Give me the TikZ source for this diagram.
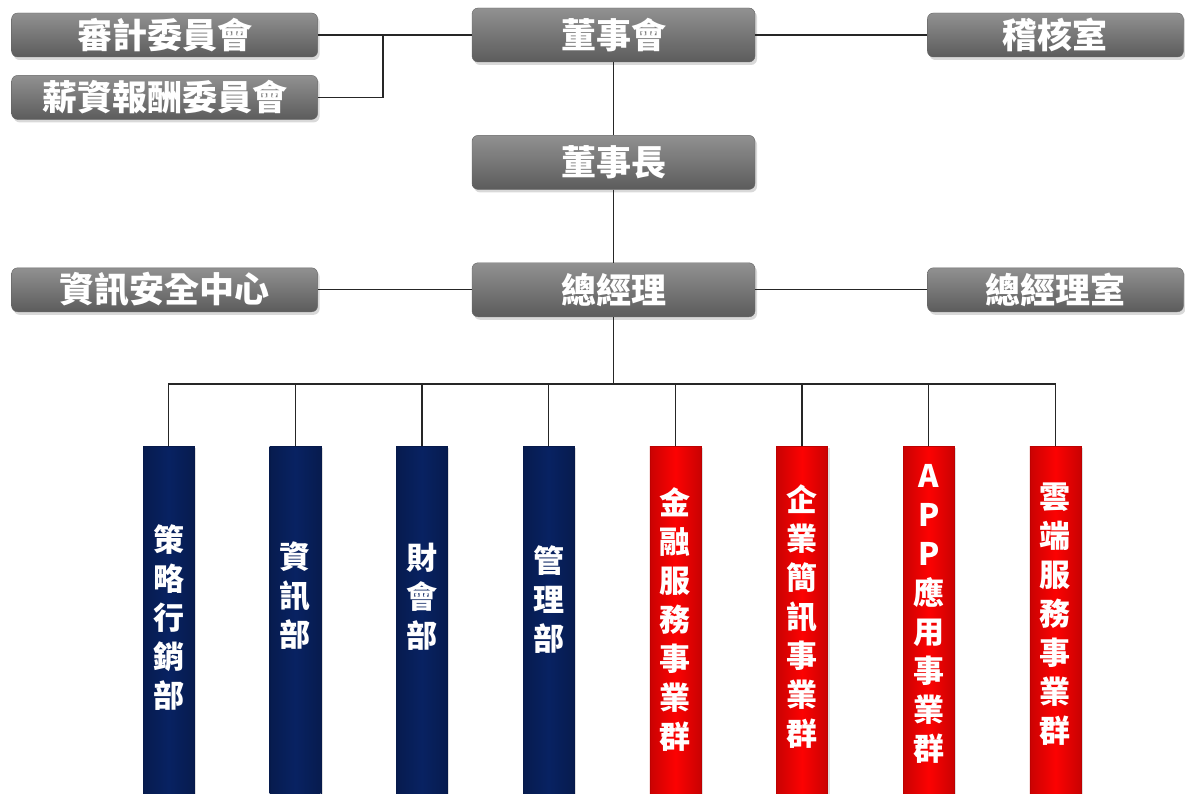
\documentclass[tikz,border=0pt]{standalone}
\usepackage{fontspec}
\setmainfont{Noto Sans CJK TC}
\usetikzlibrary{positioning,shadows}
\definecolor{panelgray}{RGB}{108,108,108}
\definecolor{deptblue}{RGB}{8,34,98}
\definecolor{groupred}{RGB}{252,2,2}

\begin{document}
\begin{tikzpicture}[x=1pt,y=-1pt,
    panel/.style={rectangle, rounded corners=6pt, draw=black!60, top color=panelgray!75, bottom color=panelgray!85!black, text=white, font=\fontsize{35}{38}\selectfont\bfseries, inner sep=0pt, drop shadow={opacity=0.3,shadow xshift=2pt,shadow yshift=-3pt}},
    sidebox/.style={panel, minimum width=306pt, minimum height=44pt},
    headbox/.style={panel, minimum width=283pt, minimum height=54pt},
    officebox/.style={panel, minimum width=256pt, minimum height=44pt},
    deptbar/.style={rectangle, draw=#1!75!black, left color=#1!80!black, right color=#1!80!black, middle color=#1, minimum width=51pt, minimum height=360pt, drop shadow={opacity=0.25,shadow xshift=2pt,shadow yshift=-2pt}},
    vtext/.style={text=white, font=\fontsize{31}{39}\selectfont\bfseries, align=center, inner sep=0pt},
    link/.style={draw=black!85, line width=1.2pt}
]
\useasboundingbox (0,0) rectangle (1185,794);

% top of the chart
\node[headbox] (board) at (613.5,35) {董事會};
\node[headbox, below=73pt of board] (chair) {董事長};
\node[headbox, below=73pt of chair] (gm) {總經理};

\node[sidebox, left=154pt of board] (audit) {審計委員會};
\node[sidebox, below=18pt of audit] (salary) {薪資報酬委員會};
\node[officebox, right=172pt of board] (inspect) {稽核室};
\node[sidebox, left=154pt of gm] (infosec) {資訊安全中心};
\node[officebox, right=172pt of gm] (gmoffice) {總經理室};

\coordinate (join) at (383,35);
\coordinate (bus) at (613.5,384);

\draw[link] (audit) -- (board);
\draw[link] (salary) -| (join);
\draw[link] (board) -- (inspect);
\draw[link] (board) -- (chair);
\draw[link] (chair) -- (gm);
\draw[link] (infosec) -- (gm);
\draw[link] (gm) -- (gmoffice);
\draw[link] (gm) -- (bus);

% departments and business groups
\node[deptbar=deptblue, anchor=north] (b1) at (168.5,446) {};
\node[deptbar=deptblue, right=75.3pt of b1] (b2) {};
\node[deptbar=deptblue, right=75.3pt of b2] (b3) {};
\node[deptbar=deptblue, right=75.3pt of b3] (b4) {};
\node[deptbar=groupred, right=75.3pt of b4] (b5) {};
\node[deptbar=groupred, right=75.3pt of b5] (b6) {};
\node[deptbar=groupred, right=75.3pt of b6] (b7) {};
\node[deptbar=groupred, right=75.3pt of b7] (b8) {};

\node[vtext, below=78pt of b1.north] (t1) {策\\略\\行\\銷\\部};
\node[vtext, below=96pt of b2.north] (t2) {資\\訊\\部};
\node[vtext, below=97pt of b3.north] (t3) {財\\會\\部};
\node[vtext, below=99pt of b4.north] (t4) {管\\理\\部};
\node[vtext, below=41pt of b5.north] (t5) {金\\融\\服\\務\\事\\業\\群};
\node[vtext, below=39pt of b6.north] (t6) {企\\業\\簡\\訊\\事\\業\\群};
\node[vtext, below=18pt of b7.north] (t7) {A\\P\\P\\應\\用\\事\\業\\群};
\node[vtext, below=37pt of b8.north] (t8) {雲\\端\\服\\務\\事\\業\\群};

\draw[link] (b1.north) |- (bus);
\draw[link] (b2.north) |- (bus);
\draw[link] (b3.north) |- (bus);
\draw[link] (b4.north) |- (bus);
\draw[link] (b5.north) |- (bus);
\draw[link] (b6.north) |- (bus);
\draw[link] (b7.north) |- (bus);
\draw[link] (b8.north) |- (bus);
\end{tikzpicture}
\end{document}
